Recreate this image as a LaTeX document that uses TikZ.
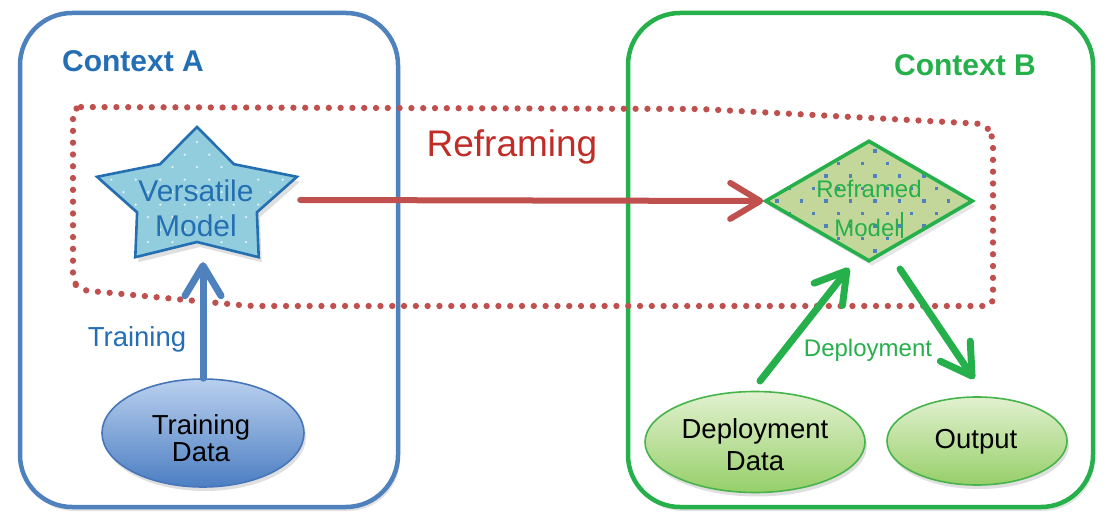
\documentclass[tikz,border=0pt]{standalone}
\usepackage{fontspec}
\setmainfont{Liberation Sans}
\usetikzlibrary{arrows.meta,shapes.geometric,shadows}
\definecolor{boxblue}{RGB}{79,129,189}
\definecolor{txtblue}{RGB}{36,110,182}
\definecolor{starline}{RGB}{36,110,178}
\definecolor{starfill}{RGB}{146,205,222}
\definecolor{redc}{RGB}{192,80,77}
\definecolor{redtxt}{RGB}{192,45,40}
\definecolor{grn}{RGB}{37,176,75}
\definecolor{dfill}{RGB}{196,215,155}
\definecolor{ellgrnline}{RGB}{70,180,75}
\definecolor{ellgrntop}{RGB}{226,241,208}
\definecolor{ellgrnbot}{RGB}{150,207,105}
\definecolor{ellbluetop}{RGB}{185,208,238}
\definecolor{ellbluebot}{RGB}{76,126,194}
\definecolor{ellblueline}{RGB}{70,118,185}
\newcommand{\fsz}[1]{\fontsize{#1}{#1}\selectfont}
\begin{document}
\begin{tikzpicture}[x=1pt,y=-1pt,
  ctxbox/.style={line width=4.5pt, rounded corners=52pt, fill=white, inner sep=0pt,
     drop shadow={opacity=0.22, shadow xshift=2pt, shadow yshift=-4pt}},
  reframe/.style={draw=redc, line width=6.3pt, line cap=round, line join=round, rounded corners=8pt, dash pattern=on 0pt off 11.8pt},
  bigarrow/.style={line width=#1, line cap=round, -{Straight Barb[length=30pt, width=36pt, round]}},
  lbl/.style={anchor=base, inner sep=0pt},
  dataell/.style={ellipse, line width=1.6pt, inner sep=0pt,
     drop shadow={opacity=0.25, shadow xshift=2pt, shadow yshift=-4pt}},
  starpath/.style={insert path={(197,127) -- (160,164.2) -- (97.1,176.8) -- (137.1,212.3) -- (135.3,257.2) -- (197,242) -- (258.7,257.2) -- (256.9,212.3) -- (296.9,176.8) -- (234,164.2) -- cycle}}
]
\useasboundingbox (0,0) rectangle (1108,526);
\fill[white] (0,0) rectangle (1108,526);

% context boxes
\node[ctxbox, draw=boxblue, minimum width=378pt, minimum height=494pt] (ctxA) at (209,260) {};
\node[ctxbox, draw=grn, minimum width=465pt, minimum height=494pt] (ctxB) at (860.5,260) {};
\node[lbl, font=\fsz{30}\bfseries, text=txtblue] (tA) at (133,72) {Context A};
\node[lbl, font=\fsz{30}\bfseries, text=grn] (tB) at (965,76) {Context B};

% reframing region
\path[reframe] (73,107) -- (700,109) -- (985,124) -- (993,136) -- (993,306) -- (250,306) -- (80,290) -- (73,282) -- cycle;
\node[lbl, font=\fsz{37}, text=redtxt] (tR) at (512,157) {Reframing};

% versatile model star
\path[starpath, fill=starfill, drop shadow={opacity=0.25, shadow xshift=3pt, shadow yshift=-5pt},
  path picture={\begin{scope}[shift={(path picture bounding box.center)}]
    \foreach \j in {-6,...,6} \foreach \k in {-5,...,5}
      \fill[white, opacity=0.75] ({24.5*\k+12.25*mod(abs(\j),2)}, {12.5*\j}) circle (1.3pt);
  \end{scope}}];
\path[starpath, draw=starline, line width=2.6pt, line join=miter];
\node[minimum width=194pt, minimum height=124pt, inner sep=0pt] (vm) at (203,200) {};
\node[lbl, font=\fsz{30}, text=starline] (vm1) at (196,202) {Versatile};
\node[lbl, font=\fsz{30}, text=starline] (vm2) at (196,237) {Model};

% reframed model diamond
\node[diamond, draw=grn, fill=dfill, line width=3.6pt, minimum width=208pt, minimum height=121pt, inner sep=0pt,
  drop shadow={opacity=0.2, shadow xshift=3pt, shadow yshift=-5pt},
  path picture={\begin{scope}[shift={(path picture bounding box.center)}]
    \foreach \j in {-6,...,6} \foreach \k in {-6,...,6}
      \fill[boxblue] ({6+24.5*\k+12.25*mod(abs(\j),2)-1.6}, {12.5*\j-1.6}) rectangle ++(3.2,3.2);
  \end{scope}}] (rm) at (869,201) {};
\node[lbl, font=\fsz{24}, text=grn] (rm1) at (869,198) {Reframed};
\node[lbl, font=\fsz{24}, text=grn] (rm2) at (867,237) {Model};
\coordinate (cur1) at (902,212);
\coordinate (cur2) at (902,238);
\draw[grn, line width=1.4pt] (cur1) -- (cur2);

% data ellipses
\node[dataell, draw=ellblueline, top color=ellbluetop, bottom color=ellbluebot, minimum width=202pt, minimum height=108pt] (td) at (203,433) {};
\node[lbl, font=\fsz{27.5}] (td1) at (201,434) {Training};
\node[lbl, font=\fsz{27.5}] (td2) at (201,461) {Data};

\node[dataell, draw=ellgrnline, top color=ellgrntop, bottom color=ellgrnbot, minimum width=220pt, minimum height=101pt] (dd) at (755,442) {};
\node[lbl, font=\fsz{27.5}] (dd1) at (755,438) {Deployment};
\node[lbl, font=\fsz{27.5}] (dd2) at (755,470) {Data};

\node[dataell, draw=ellgrnline, top color=ellgrntop, bottom color=ellgrnbot, minimum width=180pt, minimum height=88pt] (out) at (977,441) {};
\node[lbl, font=\fsz{27.5}] (out1) at (976,448) {Output};

% connectors
\draw[bigarrow=6pt, redc] (vm.east) -- (rm.west);
\draw[bigarrow=7pt, boxblue] (td.north) -- (vm.south);
\node[lbl, font=\fsz{27.5}, text=txtblue] (tT) at (137,347) {Training};

\coordinate (g1s) at (760,381);
\coordinate (g1e) at (849,268);
\coordinate (g2s) at (900,269);
\coordinate (g2e) at (974,379);
\draw[bigarrow=7pt, grn] (g1s) -- (g1e);
\draw[bigarrow=7pt, grn] (g2s) -- (g2e);
\node[lbl, font=\fsz{24}, text=grn] (tD) at (868,357) {Deployment};
\end{tikzpicture}
\end{document}
